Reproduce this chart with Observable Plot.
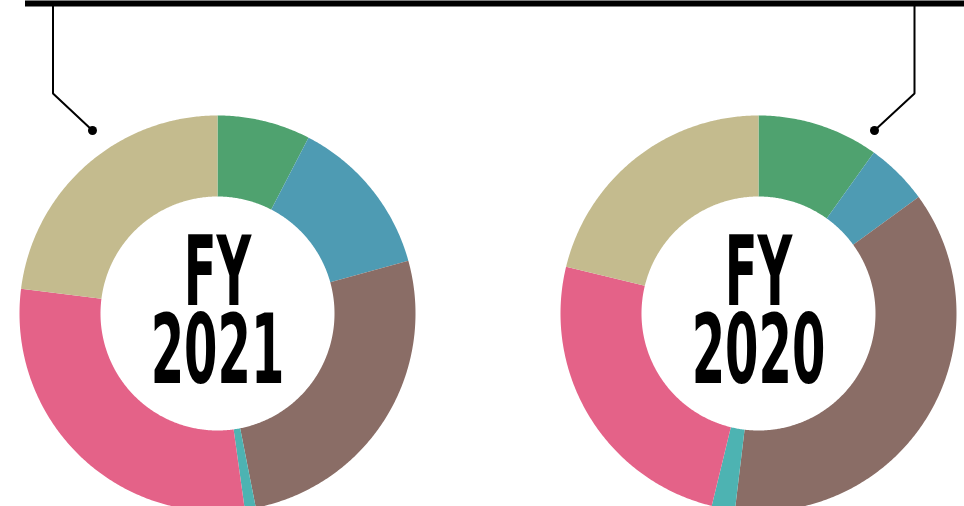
<!DOCTYPE html>
<html>
<head>
<meta charset="utf-8">
<script src="https://cdn.jsdelivr.net/npm/d3@7"></script>
<script src="https://cdn.jsdelivr.net/npm/@observablehq/plot@0.6"></script>
<style>
  html, body { margin: 0; padding: 0; background: #ffffff; }
  #chart svg { display: block; }
</style>
</head>
<body>
<div id="chart"></div>
<script>
// ---- data ----
const years = ["FY 2021", "FY 2020"];
const categories = ["Segment A", "Segment B", "Segment C", "Segment D", "Segment E", "Segment F"];
const values2021 = [7.6, 13.1, 26.2, 0.9, 29.2, 23.0];
const values2020 = [9.9, 5.1, 36.9, 1.9, 25.0, 21.2];

// ---- styles / layout ----
const palette = ["#4fa26f", "#4e9bb3", "#8a6d66", "#4db3b2", "#e46288", "#c4bb8e"];
const W = 964, H = 506;
const layout = {
  cx: [217, 758], cy: 313, outer: 198, inner: 117,
  barY: 3, barX1: 25, barWidth: 6,
  dotDx: [-125, 116], dotDy: -183,
  bendDx: [-164.5, 156], bendDy: -220,
  lineTop: 5,
  labelBaseline: 69, fontSize: 96, lineHeight: 0.8125, squeeze: 0.5
};

// ---- build slice polygons ----
const series = [values2021, values2020];
const slicePoints = [];
series.forEach((vals, i) => {
  const total = d3.sum(vals);
  const cx = layout.cx[i], cy = layout.cy;
  let acc = 0;
  vals.forEach((v, j) => {
    const a0 = acc / total * 2 * Math.PI;
    const a1 = (acc + v) / total * 2 * Math.PI;
    acc += v;
    const n = Math.max(2, Math.ceil((a1 - a0) / (Math.PI / 360)));
    const key = years[i] + "|" + categories[j];
    for (let k = 0; k <= n; k++) {
      const a = a0 + (a1 - a0) * k / n;
      slicePoints.push({key, category: categories[j], x: cx + layout.outer * Math.sin(a), y: cy - layout.outer * Math.cos(a)});
    }
    for (let k = n; k >= 0; k--) {
      const a = a0 + (a1 - a0) * k / n;
      slicePoints.push({key, category: categories[j], x: cx + layout.inner * Math.sin(a), y: cy - layout.inner * Math.cos(a)});
    }
  });
});

const labels = years.map((y, i) => ({
  year: y, text: y.replace(" ", "\n"), cx: layout.cx[i]
}));

const connectorPoints = [];
const dots = [];
years.forEach((y, i) => {
  const cx = layout.cx[i], cy = layout.cy;
  const bx = cx + layout.bendDx[i], by = cy + layout.bendDy;
  const dx = cx + layout.dotDx[i], dy = cy + layout.dotDy;
  connectorPoints.push({year: y, x: bx, y: layout.lineTop});
  connectorPoints.push({year: y, x: bx, y: by});
  connectorPoints.push({year: y, x: dx, y: dy});
  dots.push({year: y, x: dx, y: dy});
});

const font = "'DejaVu Sans', 'Liberation Sans', sans-serif";

const svg = Plot.plot({
  width: W, height: H,
  margin: 0,
  x: {domain: [0, W], range: [0, W], axis: null},
  y: {domain: [0, H], range: [0, H], axis: null},
  color: {domain: categories, range: palette},
  style: {background: "#ffffff"},
  marks: [
    Plot.line(slicePoints, {x: "x", y: "y", z: "key", fill: "category", stroke: "none", curve: "linear-closed", clip: true}),
    Plot.ruleY([layout.barY], {x1: layout.barX1, x2: W, stroke: "#000", strokeWidth: layout.barWidth}),
    Plot.line(connectorPoints, {x: "x", y: "y", z: "year", stroke: "#000", strokeWidth: 2, strokeLinejoin: "miter", strokeLinecap: "butt"}),
    Plot.dot(dots, {x: "x", y: "y", r: 4.5, fill: "#000", stroke: "none"}),
    Plot.text(labels, {x: "cx", y: () => layout.cy + layout.labelBaseline, text: "text", fontFamily: font, fontWeight: "bold", fontSize: layout.fontSize, lineHeight: layout.lineHeight, lineAnchor: "bottom", textAnchor: "middle", fill: "#000"})
  ]
});

// horizontally condense the centre labels (condensed display face)
d3.select(svg).selectAll('g[aria-label="text"] text').each(function () {
  const t = this.getAttribute("transform") || "";
  this.setAttribute("transform", `${t} scale(${layout.squeeze},1)`);
});

document.getElementById("chart").appendChild(svg);
</script>
</body>
</html>
